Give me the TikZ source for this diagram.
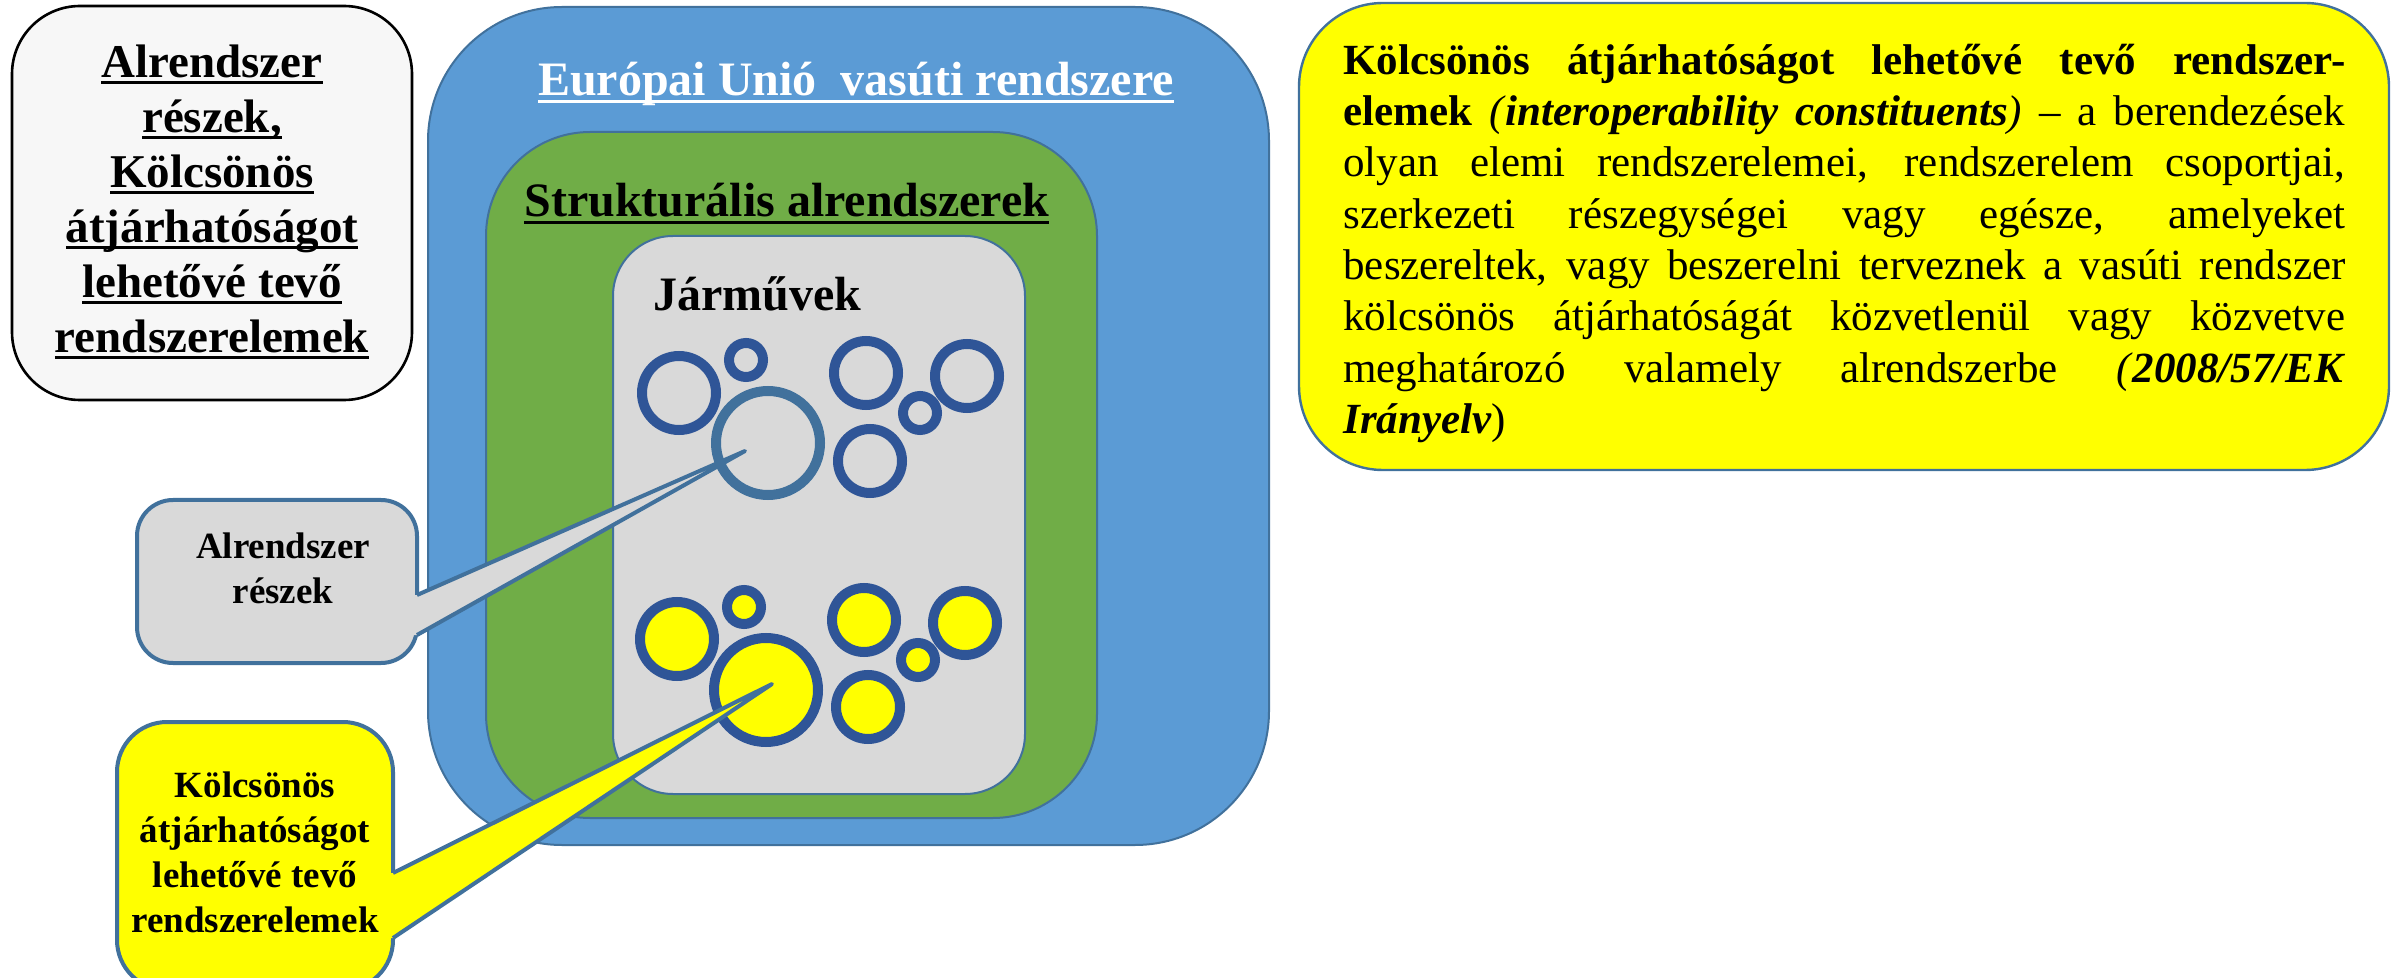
\documentclass[tikz,border=0pt]{standalone}
\usepackage{fontspec}
\setmainfont{Liberation Serif}
\definecolor{eublue}{HTML}{5B9BD5}
\definecolor{euborder}{HTML}{41719C}
\definecolor{strgreen}{HTML}{70AD47}
\definecolor{vehgray}{HTML}{D9D9D9}
\definecolor{ringblue}{HTML}{2F5597}
\definecolor{ylw}{HTML}{FFFF00}
\definecolor{lboxfill}{HTML}{F7F7F7}
\newcommand{\ulin}[1]{\setbox0=\hbox{#1}\rlap{\rule[-0.14em]{\wd0}{0.06em}}\box0}
\begin{document}
\begin{tikzpicture}[x=0.5pt,y=-0.5pt,
  frame/.style={draw=euborder, line width=1pt, inner sep=0pt, outer sep=0pt},
  ring/.style={circle, draw=ringblue, line width=5pt, inner sep=0pt, minimum size=#1},
  yring/.style={ring=#1, fill=ylw},
  tailline/.style={draw=euborder, line width=2pt, line join=round},
  headfont/.style={font=\fontsize{24pt}{28pt}\selectfont\bfseries, inner sep=0pt}
]
\useasboundingbox (0,0) rectangle (2399,978);
\clip (0,0) rectangle (2399,978);

% nested system boxes
\node[frame, fill=eublue, rounded corners=67pt, minimum width=420.5pt, minimum height=419pt] (eu) at (848.5,426) {};
\node[frame, fill=strgreen, rounded corners=52pt, minimum width=305.5pt, minimum height=343pt] (str) at (791.5,475) {};
\node[frame, fill=vehgray, rounded corners=30pt, minimum width=206pt, minimum height=279pt] (veh) at (819,515) {};

\node[headfont, text=white, anchor=base] (eutitle) at (856,96) {\ulin{Európai Unió~ vasúti rendszere}};
\node[headfont, anchor=base west] (strtitle) at (524,217) {\ulin{Strukturális alrendszerek}};
\node[headfont, anchor=base west] (vehtitle) at (653,311) {Járművek};

% subsystem parts (rings)
\node[ring=37pt] (c1) at (679,393) {};
\node[ring=17pt] (c2) at (746,360) {};
\node[ring=52pt, draw=euborder] (c3) at (768,443) {};
\node[ring=32pt] (c4) at (866,373) {};
\node[ring=32pt] (c5) at (967,376) {};
\node[ring=17pt] (c6) at (920,413) {};
\node[ring=32pt] (c7) at (870,461) {};
% interoperability constituents (filled rings)
\node[yring=37pt] (d1) at (677,639) {};
\node[yring=17pt] (d2) at (744,607) {};
\node[yring=52pt] (d3) at (766,690) {};
\node[yring=32pt] (d4) at (864,620) {};
\node[yring=32pt] (d5) at (965,623) {};
\node[yring=17pt] (d6) at (918,660) {};
\node[yring=32pt] (d7) at (868,707) {};

% left legend box
\node[draw=black, line width=1.3pt, fill=lboxfill, rounded corners=34pt, minimum width=200pt, minimum height=197pt, inner sep=0pt] (legend) at (212,203) {};
\node[anchor=north, inner sep=0pt, align=center, font=\fontsize{23.5pt}{27.5pt}\selectfont\bfseries] (legendtext) at (212,30)
 {\rule{0pt}{23.5pt}\ulin{Alrendszer}\\ \ulin{részek,}\\ \ulin{Kölcsönös}\\ \ulin{átjárhatóságot}\\ \ulin{lehetővé tevő}\\ \ulin{rendszerelemek}};

% right definition box
\node[draw=euborder, line width=1.2pt, fill=ylw, rounded corners=42pt, minimum width=545pt, minimum height=233.5pt, inner sep=0pt] (defbox) at (1844,236.5) {};
\node[anchor=north west, inner sep=0pt, text width=501pt, align=justify, font=\fontsize{21.5pt}{25.65pt}\selectfont] (deftext) at (1343,31)
 {\tolerance=10000\hbadness=10000\hyphenpenalty=10000\noindent\rule{0pt}{21.5pt}\textbf{Kölcsönös átjárhatóságot lehetővé tevő rendszer-}\linebreak
 \textbf{elemek} \textit{(}\textbf{\textit{interoperability constituents}}\textit{)} – a berendezések\linebreak
 olyan elemi rendszerelemei, rendszerelem csoportjai,\linebreak
 szerkezeti részegységei vagy egésze, amelyeket\linebreak
 beszereltek, vagy beszerelni terveznek a vasúti rendszer\linebreak
 kölcsönös átjárhatóságát közvetlenül vagy közvetve\linebreak
 meghatározó valamely alrendszerbe \textit{(}\textbf{\textit{2008/57/EK}}\linebreak
 \textbf{\textit{Irányelv}})};

% callout: subsystem parts
\coordinate (tipA) at (745,451);
\coordinate (a1) at (417,595);
\coordinate (a2) at (417,635);
\node[draw=euborder, line width=2pt, fill=vehgray, rounded corners=18pt, minimum width=140pt, minimum height=81.5pt, inner sep=0pt] (callA) at (277,581.5) {};
\fill[vehgray] (411,595) -- (a1) -- (tipA) -- (a2) -- (411,635) -- cycle;
\draw[tailline] (a1) -- (tipA) -- (a2);
\node[anchor=north, inner sep=0pt, align=center, font=\fontsize{18.5pt}{22.5pt}\selectfont\bfseries] (callAtext) at (283,521)
 {\rule{0pt}{18.5pt}Alrendszer\\részek};

% callout: interoperability constituents
\coordinate (tipB) at (772,684);
\coordinate (b1) at (393,873);
\coordinate (b2) at (393,938);
\node[draw=euborder, line width=2pt, fill=ylw, rounded corners=25pt, minimum width=138pt, minimum height=134pt, inner sep=0pt] (callB) at (255,856) {};
\fill[ylw] (387,873) -- (b1) -- (tipB) -- (b2) -- (387,938) -- cycle;
\draw[tailline] (b1) -- (tipB) -- (b2);
\node[anchor=north, inner sep=0pt, align=center, font=\fontsize{18.5pt}{22.5pt}\selectfont\bfseries] (callBtext) at (255,760)
 {\rule{0pt}{18.5pt}Kölcsönös\\átjárhatóságot\\lehetővé tevő\\rendszerelemek};
\end{tikzpicture}
\end{document}
